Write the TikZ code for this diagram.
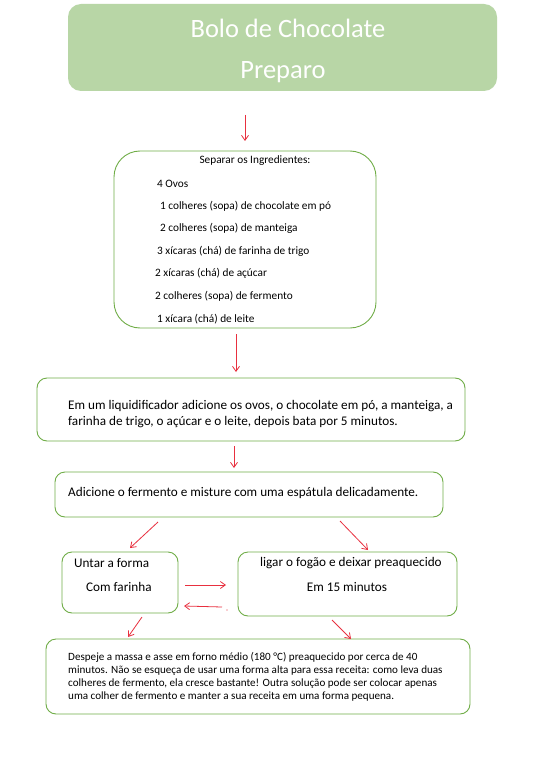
\documentclass[tikz,border=0pt]{standalone}
\usepackage{fontspec}
\setmainfont{Carlito}
\usetikzlibrary{arrows.meta}
\definecolor{boxgreen}{HTML}{70AD47}
\definecolor{titlefill}{HTML}{B8D6A6}
\definecolor{arrred}{HTML}{E8303F}
\tikzset{
  stepbox/.style={draw=boxgreen, line width=0.9pt, rounded corners=#1, fill=white, inner sep=0pt},
  stepbox/.default=10pt,
  txt/.style={anchor=west, inner sep=0pt, font=\fontsize{13.2}{16}\selectfont},
  arr/.style={draw=arrred, line width=0.8pt, -{Straight Barb[length=5pt,width=7pt]}},
}
\begin{document}
\begin{tikzpicture}[x=1pt,y=-1pt]
\useasboundingbox (0,0) rectangle (542,762);
\fill[white] (0,0) rectangle (542,762);

% title
\node[fill=titlefill, rounded corners=13pt, minimum width=429pt, minimum height=87pt, inner sep=0pt] (title) at (282.5,47.5) {};
\node[text=white, font=\fontsize{26.5}{30}\selectfont, inner sep=0pt] (t1) at (288,28) {Bolo de Chocolate};
\node[text=white, font=\fontsize{26.5}{30}\selectfont, inner sep=0pt] (t2) at (283,72) {Preparo};

% ingredients
\node[stepbox=26pt, minimum width=262pt, minimum height=177pt] (ingr) at (245,239.5) {};
\begin{scope}[every node/.style={txt, font=\fontsize{11.3}{13}\selectfont}]
\node[anchor=center] (i0) at (255,161) {Separar os Ingredientes:};
\node (i1) at (157,184) {4 Ovos};
\node (i2) at (160,206) {1 colheres (sopa) de chocolate em pó};
\node (i3) at (160,228) {2 colheres (sopa) de manteiga};
\node (i4) at (157,251) {3 xícaras (chá) de farinha de trigo};
\node (i5) at (155,273) {2 xícaras (chá) de açúcar};
\node (i6) at (155,296) {2 colheres (sopa) de fermento};
\node (i7) at (157,319) {1 xícara (chá) de leite};
\end{scope}

% blender
\node[stepbox, minimum width=428pt, minimum height=63pt] (blend) at (251,409.5) {};
\node[txt, align=left] (blendtxt) at (68,414)
  {Em um liquidificador adicione os ovos, o chocolate em pó, a manteiga, a\\farinha de trigo, o açúcar e o leite, depois bata por 5 minutos.};

% yeast
\node[stepbox, minimum width=388pt, minimum height=45pt] (yeast) at (249,494.5) {};
\node[txt] (yeasttxt) at (68,493) {Adicione o fermento e misture com uma espátula delicadamente.};

% grease pan
\node[stepbox, minimum width=116pt, minimum height=61pt] (pan) at (120,582.5) {};
\node[txt] (pan1) at (74,563) {Untar a forma};
\node[txt] (pan2) at (86,587) {Com farinha};

% oven
\node[stepbox, minimum width=219pt, minimum height=64pt] (oven) at (347.5,584) {};
\node[txt] (oven1) at (260,563) {ligar o fogão e deixar preaquecido};
\node[txt, anchor=center] (oven2) at (347,587) {Em 15 minutos};

% bake
\node[stepbox, minimum width=424pt, minimum height=75pt] (bake) at (258,676.5) {};
\node[txt, font=\fontsize{11.1}{12.8}\selectfont, align=left] (baketxt) at (68,677)
  {Despeje a massa e asse em forno médio (180 °C) preaquecido por cerca de 40\\
   minutos. Não se esqueça de usar uma forma alta para essa receita: como leva duas\\
   colheres de fermento, ela cresce bastante! Outra solução pode ser colocar apenas\\
   uma colher de fermento e manter a sua receita em uma forma pequena.};

% connector end points
\coordinate (a1s) at (245,115); \coordinate (a1e) at (245,141);
\coordinate (a2s) at (236,334); \coordinate (a2e) at (236,372);
\coordinate (a3s) at (234,446); \coordinate (a3e) at (234,468);
\coordinate (a4s) at (158,522); \coordinate (a4e) at (130,548);
\coordinate (a5s) at (340,521); \coordinate (a5e) at (368,550);
\coordinate (a6s) at (185,585); \coordinate (a6e) at (226,585);
\coordinate (a7s) at (222,607); \coordinate (a7e) at (184,606);
\coordinate (a8s) at (142,617); \coordinate (a8e) at (128,637);
\coordinate (a9s) at (332,620); \coordinate (a9e) at (351,639);
\coordinate (dot) at (227,610);

\foreach \k in {1,...,9} \draw[arr] (a\k s) -- (a\k e);
\fill[arrred] (dot) circle (0.7pt);
\end{tikzpicture}
\end{document}
